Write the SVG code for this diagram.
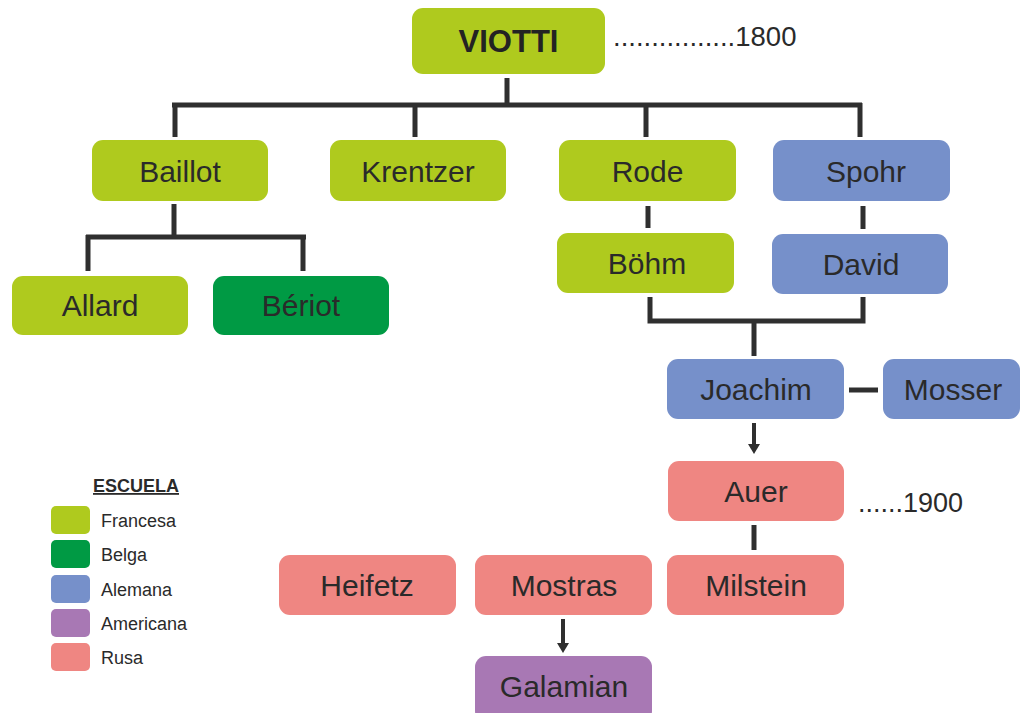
<svg xmlns="http://www.w3.org/2000/svg" width="1020" height="713" viewBox="0 0 1020 713">
<defs>
<style>
.n{font-family:"Liberation Sans",Arial,sans-serif;font-size:30px;fill:#2a2a2a;text-anchor:middle}
.fr{fill:#afca1e}
.be{fill:#009a44}
.al{fill:#7690ca}
.am{fill:#a878b4}
.ru{fill:#ef8682}
.c{stroke:#2f2f2f;stroke-width:5;fill:none}
.lg{font-family:"Liberation Sans",Arial,sans-serif;font-size:18px;fill:#2a2a2a}
.dt{font-family:"Liberation Sans",Arial,sans-serif;font-size:27.5px;fill:#2a2a2a}
</style>
</defs>
<rect width="1020" height="713" fill="#ffffff"/>
<g id="connectors">
<path class="c" d="M507,78 V105 M172,105 H862 M175,103 V137 M415,103 V137 M646,103 V137 M860,103 V137"/>
<path class="c" d="M174,204 V237 M86,237 H306 M88,235 V271 M303,235 V271"/>
<path class="c" d="M648,206 V228 M863,206 V229"/>
<path class="c" d="M650,297 V321 H863 V297 M754,319 V356"/>
<path class="c" d="M849,390 H878"/>
<path class="c" d="M754,423 V446" style="stroke-width:4"/>
<path d="M748,444 L760,444 L754,454 Z" fill="#2f2f2f"/>
<path class="c" d="M754,525 V550"/>
<path class="c" d="M563,619 V645" style="stroke-width:4"/>
<path d="M557,643 L569,643 L563,653 Z" fill="#2f2f2f"/>
</g>
<g id="viotti"><rect class="fr" x="412" y="8" width="193" height="66" rx="11"/><text x="508.5" y="52" class="n" style="font-weight:bold;font-size:31px;fill:#232323">VIOTTI</text></g>
<text id="year1800" class="dt" x="613" y="46">................1800</text>
<g id="baillot"><rect class="fr" x="92" y="140" width="176" height="61" rx="11"/><text x="180" y="182" class="n">Baillot</text></g>
<g id="krentzer"><rect class="fr" x="330" y="140" width="176" height="61" rx="11"/><text x="418" y="182" class="n">Krentzer</text></g>
<g id="rode"><rect class="fr" x="559" y="140" width="177" height="61" rx="11"/><text x="647.5" y="182" class="n">Rode</text></g>
<g id="spohr"><rect class="al" x="773" y="140" width="177" height="61" rx="11"/><text x="866" y="182" class="n">Spohr</text></g>
<g id="allard"><rect class="fr" x="12" y="276" width="176" height="59" rx="11"/><text x="100" y="316" class="n">Allard</text></g>
<g id="beriot"><rect class="be" x="213" y="276" width="176" height="59" rx="11"/><text x="301" y="316" class="n">Bériot</text></g>
<g id="bohm"><rect class="fr" x="557" y="233" width="177" height="60" rx="11"/><text x="647" y="274" class="n">Böhm</text></g>
<g id="david"><rect class="al" x="772" y="234" width="176" height="60" rx="11"/><text x="861" y="275" class="n">David</text></g>
<g id="joachim"><rect class="al" x="667" y="359" width="177" height="60" rx="11"/><text x="756" y="400" class="n">Joachim</text></g>
<g id="mosser"><rect class="al" x="883" y="359" width="137" height="60" rx="11"/><text x="953" y="400" class="n">Mosser</text></g>
<g id="auer"><rect class="ru" x="668" y="461" width="176" height="60" rx="11"/><text x="756" y="502" class="n">Auer</text></g>
<text id="year1900" class="dt" x="858" y="512" style="font-size:27px">......1900</text>
<g id="heifetz"><rect class="ru" x="279" y="555" width="177" height="60" rx="11"/><text x="367" y="596" class="n">Heifetz</text></g>
<g id="mostras"><rect class="ru" x="475" y="555" width="177" height="60" rx="11"/><text x="564" y="596" class="n">Mostras</text></g>
<g id="milstein"><rect class="ru" x="667" y="555" width="177" height="60" rx="11"/><text x="756" y="596" class="n">Milstein</text></g>
<g id="galamian"><rect class="am" x="475" y="656" width="177" height="66" rx="11"/><text x="564" y="697" class="n">Galamian</text></g>
<g id="legend">
<text x="93" y="492" class="lg" style="font-weight:bold;text-decoration:underline">ESCUELA</text>
<rect class="fr" x="51" y="506" width="39" height="28" rx="5"/><text x="101" y="527" class="lg">Francesa</text>
<rect class="be" x="51" y="540" width="39" height="28" rx="5"/><text x="101" y="561" class="lg">Belga</text>
<rect class="al" x="51" y="575" width="39" height="28" rx="5"/><text x="101" y="596" class="lg">Alemana</text>
<rect class="am" x="51" y="609" width="39" height="28" rx="5"/><text x="101" y="630" class="lg">Americana</text>
<rect class="ru" x="51" y="643" width="39" height="28" rx="5"/><text x="101" y="664" class="lg">Rusa</text>
</g>
</svg>
